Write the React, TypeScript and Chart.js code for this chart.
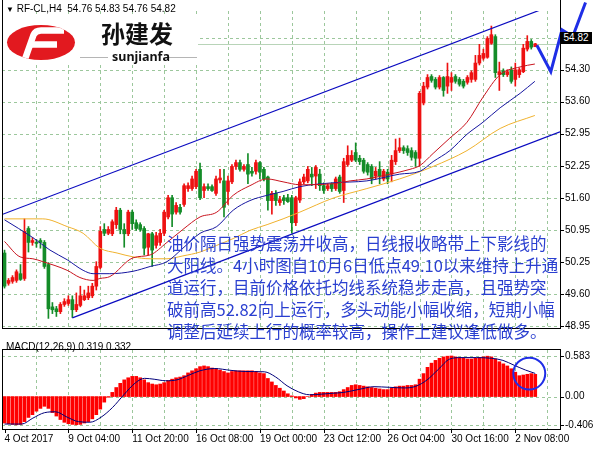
import React, { useEffect, useRef } from 'react';
import { Chart, registerables } from 'chart.js';

Chart.register(...registerables);

// ---------------- data ----------------
const openP = [
  50.47, 49.84, 49.88, 49.90, 50.04, 49.94, 50.98, 50.69, 50.69, 50.73,
  50.69, 50.23, 49.35, 49.31, 49.25, 49.40, 49.42, 49.50, 49.29, 49.38,
  49.50, 49.54, 49.58, 49.78, 50.17, 50.96, 50.88, 50.87, 51.06, 51.36,
  50.96, 50.87, 51.32, 51.10, 51.06, 50.98, 50.59, 50.87, 50.63, 50.69,
  50.88, 51.22, 51.62, 51.32, 51.42, 51.48, 51.81, 51.81, 51.85, 52.21,
  51.77, 51.85, 51.85, 51.71, 51.99, 51.97, 51.75, 51.95, 52.27, 52.35,
  52.21, 52.31, 52.17, 52.17, 52.35, 52.21, 52.05, 51.56, 51.71, 51.52,
  51.62, 51.62, 51.62, 51.10, 51.57, 51.95, 51.97, 52.11, 52.07, 52.11,
  51.87, 51.81, 51.91, 51.81, 52.05, 51.77, 52.31, 52.40, 52.56, 52.44,
  52.40, 52.31, 52.27, 52.07, 52.21, 52.01, 52.15, 52.11, 52.37, 52.60,
  52.66, 52.64, 52.60, 52.56, 52.44, 53.59, 53.92, 54.14, 54.08, 53.92,
  54.12, 53.94, 54.02, 54.14, 54.08, 54.04, 54.02, 54.08, 54.08, 54.42,
  54.52, 54.54, 54.83, 54.97, 54.18, 54.26, 54.18, 54.28, 54.08, 54.18,
  54.24, 54.71, 54.87, 54.76,
];
const highP = [
  50.53, 49.94, 50.00, 50.12, 50.23, 51.18, 51.02, 50.79, 50.75, 50.77,
  50.73, 50.27, 49.44, 49.36, 49.44, 49.52, 49.58, 49.58, 49.64, 49.78,
  49.70, 49.78, 49.84, 50.29, 51.02, 51.08, 51.02, 51.16, 51.42, 51.40,
  51.08, 51.36, 51.36, 51.16, 51.10, 51.02, 50.88, 50.90, 50.90, 50.96,
  51.36, 51.67, 51.67, 51.52, 51.48, 51.91, 51.93, 52.07, 52.21, 52.34,
  51.91, 51.91, 51.89, 52.07, 52.21, 52.21, 52.07, 52.31, 52.40, 52.40,
  52.31, 52.54, 52.25, 52.40, 52.37, 52.25, 52.07, 51.75, 51.77, 51.65,
  51.67, 51.69, 51.67, 51.65, 52.01, 52.11, 52.27, 52.25, 52.29, 52.21,
  51.93, 51.91, 51.93, 52.05, 52.09, 52.44, 52.70, 52.60, 52.76, 52.50,
  52.44, 52.35, 52.31, 52.25, 52.37, 52.21, 52.21, 52.50, 52.84, 52.86,
  52.70, 52.70, 52.66, 52.60, 53.83, 54.02, 54.18, 54.18, 54.12, 54.16,
  54.14, 54.42, 54.22, 54.18, 54.12, 54.08, 54.16, 54.26, 54.58, 54.81,
  54.71, 54.97, 55.19, 55.01, 54.44, 54.30, 54.28, 54.34, 54.42, 54.32,
  54.81, 54.99, 54.91, 54.83,
];
const lowP = [
  49.74, 49.80, 49.84, 49.86, 49.90, 49.90, 50.49, 50.63, 50.59, 50.57,
  50.15, 49.11, 49.21, 49.15, 49.21, 49.36, 49.38, 49.13, 49.25, 49.35,
  49.48, 49.50, 49.54, 49.70, 50.14, 50.83, 50.85, 50.83, 50.98, 50.87,
  50.59, 50.83, 50.96, 50.94, 50.92, 50.43, 50.43, 50.19, 50.57, 50.63,
  50.83, 51.18, 51.02, 51.28, 51.28, 51.44, 51.75, 51.77, 51.81, 51.58,
  51.62, 51.77, 51.75, 51.67, 51.93, 51.22, 51.48, 51.91, 52.21, 52.17,
  52.17, 51.91, 52.07, 52.11, 52.01, 51.97, 51.36, 51.28, 51.46, 51.46,
  51.48, 51.52, 50.88, 51.04, 51.52, 51.91, 51.93, 51.87, 51.81, 51.77,
  51.71, 51.77, 51.75, 51.77, 51.71, 51.52, 52.27, 52.37, 52.37, 52.31,
  52.13, 52.09, 51.91, 52.01, 51.91, 51.97, 51.91, 51.95, 52.31, 52.56,
  52.54, 52.50, 52.40, 52.27, 52.27, 53.55, 53.88, 54.02, 53.88, 53.88,
  53.73, 53.79, 53.85, 54.00, 53.94, 53.90, 53.98, 54.02, 54.04, 54.38,
  54.48, 54.52, 54.81, 54.12, 53.85, 54.14, 54.14, 54.00, 53.94, 54.12,
  54.22, 54.67, 54.71, 54.76,
];
const closeP = [
  49.78, 49.90, 49.96, 50.08, 49.92, 50.92, 50.69, 50.73, 50.67, 50.69,
  50.19, 49.31, 49.29, 49.25, 49.40, 49.46, 49.50, 49.29, 49.40, 49.58,
  49.58, 49.64, 49.78, 50.19, 50.92, 50.88, 50.96, 51.12, 51.36, 50.96,
  50.87, 51.32, 51.08, 50.98, 50.96, 50.57, 50.87, 50.53, 50.83, 50.88,
  51.32, 51.62, 51.28, 51.46, 51.32, 51.87, 51.87, 52.01, 52.17, 51.62,
  51.85, 51.81, 51.77, 52.01, 52.03, 51.42, 51.97, 52.27, 52.35, 52.21,
  52.27, 52.11, 52.13, 52.35, 52.15, 52.01, 51.56, 51.71, 51.56, 51.58,
  51.56, 51.54, 51.10, 51.62, 51.95, 52.05, 52.21, 52.05, 52.25, 51.87,
  51.77, 51.87, 51.81, 52.01, 51.75, 52.37, 52.50, 52.50, 52.40, 52.37,
  52.17, 52.15, 52.01, 52.17, 52.07, 52.17, 52.01, 52.40, 52.60, 52.66,
  52.60, 52.56, 52.46, 52.44, 53.79, 53.94, 54.12, 54.06, 53.92, 54.12,
  53.85, 54.14, 54.12, 54.04, 53.98, 53.94, 54.12, 54.22, 54.42, 54.58,
  54.62, 54.93, 55.01, 54.22, 54.24, 54.18, 54.24, 54.04, 54.28, 54.28,
  54.73, 54.87, 54.75, 54.82,
];

// moving averages (bar position, price)
const redMaBars = [0, 3.9, 7.1, 9.6, 15.7, 18.9, 22.2, 23.9, 26.4, 32.2, 36.5, 40.7, 44.7, 49, 53.2, 57.3, 61.5, 65.8, 69.8, 74, 82.3, 86.6, 90.8, 96.6, 101.6, 104.1, 107.4, 111.6, 115.9, 119.9, 124.2, 129.2, 132.9];
const redMaVals = [50.71, 50.39, 50.35, 50.29, 50.11, 49.96, 49.90, 49.94, 49.98, 50.37, 50.43, 50.69, 50.96, 51.22, 51.32, 51.67, 51.87, 52.01, 51.95, 51.89, 51.91, 51.97, 52.01, 52.11, 52.21, 52.29, 52.54, 52.86, 53.19, 53.71, 54.18, 54.34, 54.40];
const blueMaBars = [0, 7.1, 11.4, 15.7, 19.7, 22.2, 26.4, 32.2, 36.5, 40.7, 44.7, 49, 53.2, 57.3, 61.5, 65.8, 69.8, 74, 82.3, 90.8, 99, 104.1, 107.4, 111.6, 115.9, 119.9, 124.2, 129.2, 132.9];
const blueMaVals = [51.16, 50.79, 50.53, 50.33, 50.11, 50.04, 50.04, 50.09, 50.19, 50.29, 50.57, 50.88, 51.02, 51.36, 51.56, 51.67, 51.75, 51.85, 51.93, 51.97, 52.11, 52.17, 52.37, 52.60, 52.94, 53.19, 53.49, 53.79, 54.04];
const orangeMaBars = [0, 9.6, 15.7, 19.7, 23.9, 28.2, 32.2, 36.5, 40.7, 44.7, 49, 53.2, 57.3, 61.5, 65.8, 69.8, 74, 82.3, 90.8, 99, 107.4, 115.9, 124.2, 132.9];
const orangeMaVals = [51.18, 51.18, 51.02, 50.88, 50.57, 50.47, 50.39, 50.35, 50.35, 50.41, 50.49, 50.63, 50.77, 50.94, 51.06, 51.18, 51.32, 51.61, 51.81, 52.01, 52.27, 52.60, 53.06, 53.33];

// trend channel + hand-drawn arrow
const upperChannelBars = [-0.63, 139.2];
const upperChannelPrices = [51.27, 55.68];
const lowerChannelBars = [17, 139.2];
const lowerChannelPrices = [49.12, 52.99];
const arrowBars = [133.4, 136.9, 139.7, 142.4, 145.6];
const arrowPrices = [54.79, 54.24, 55.11, 54.97, 55.68];
const bidPrice = 54.82;

// axes
const priceTickValues = [48.95, 49.6167, 50.2833, 50.95, 51.6167, 52.2833, 52.95, 53.6167, 54.2833, 54.95];
const priceTickLabels = ['48.95', '49.60', '50.25', '50.95', '51.60', '52.25', '52.95', '53.60', '54.30', '54.95'];
const timeLabelBars = [0, 16, 32, 48, 64, 80, 96, 112, 128];
const timeLabels = ['4 Oct 2017', '9 Oct 04:00', '11 Oct 20:00', '16 Oct 08:00', '19 Oct 00:00', '23 Oct 12:00', '26 Oct 04:00', '30 Oct 16:00', '2 Nov 08:00'];
const gridBars = [8, 16, 24, 32, 40, 48, 56, 64, 72, 80, 88, 96, 104, 112, 120, 128, 136];

// MACD
const macdHist = [
  -0.38, -0.39, -0.40, -0.406, -0.40, -0.36, -0.30, -0.26, -0.21, -0.17,
  -0.14, -0.17, -0.23, -0.28, -0.33, -0.37, -0.39, -0.40, -0.405, -0.40,
  -0.38, -0.36, -0.32, -0.26, -0.18, -0.08, -0.01, 0.06, 0.13, 0.19,
  0.24, 0.27, 0.29, 0.29, 0.27, 0.24, 0.20, 0.18, 0.17, 0.18,
  0.20, 0.23, 0.25, 0.27, 0.28, 0.30, 0.34, 0.37, 0.40, 0.43,
  0.44, 0.43, 0.41, 0.40, 0.38, 0.36, 0.34, 0.36, 0.37, 0.37,
  0.37, 0.37, 0.37, 0.36, 0.34, 0.33, 0.26, 0.21, 0.16, 0.12,
  0.08, 0.04, 0.01, -0.02, -0.04, -0.03, 0.00, 0.03, 0.05, 0.06,
  0.06, 0.06, 0.06, 0.06, 0.07, 0.10, 0.13, 0.16, 0.17, 0.16,
  0.15, 0.14, 0.13, 0.12, 0.11, 0.10, 0.10, 0.12, 0.14, 0.15,
  0.15, 0.16, 0.16, 0.17, 0.25, 0.33, 0.42, 0.48, 0.52, 0.55,
  0.57, 0.58, 0.583, 0.57, 0.56, 0.55, 0.54, 0.54, 0.55, 0.56,
  0.57, 0.58, 0.57, 0.54, 0.50, 0.47, 0.44, 0.40, 0.35, 0.30,
  0.31, 0.32, 0.33, 0.319,
];
const signalBars = [0, 4.3, 7.1, 10, 12.8, 15.7, 18.5, 21.4, 24.2, 27.1, 29.9, 32.8, 35.1, 37.5, 40.4, 43.2, 46.1, 48.9, 52.7, 56.5, 60.3, 65.1, 67.9, 70.8, 73.6, 76.4, 79.3, 82.1, 85, 88.8, 92.6, 96.4, 100.2, 103, 105.9, 108.7, 111.6, 114.4, 118.2, 122, 124.9, 127.7, 130.6, 133];
const signalVals = [-0.395, -0.395, -0.31, -0.232, -0.219, -0.296, -0.36, -0.369, -0.296, -0.155, 0.026, 0.197, 0.262, 0.249, 0.227, 0.24, 0.305, 0.369, 0.403, 0.378, 0.36, 0.356, 0.283, 0.155, 0.069, 0.026, 0.034, 0.047, 0.06, 0.103, 0.142, 0.133, 0.124, 0.146, 0.24, 0.39, 0.54, 0.56, 0.56, 0.55, 0.52, 0.45, 0.38, 0.332];
const macdTickValues = [-0.406, 0, 0.583];
const macdTickLabels = ['-0.406', '0.00', '0.583'];
const circleBar = 131.5;
const circleValue = 0.33;
const circleRadiusBars = 4;

const textLines = [
  '油价隔日强势震荡并收高，日线报收略带上下影线的',
  '大阳线。4小时图自10月6日低点49.10以来维持上升通',
  '道运行，目前价格依托均线系统稳步走高，且强势突',
  '破前高52.82向上运行，多头动能小幅收缩，短期小幅',
  '调整后延续上行的概率较高，操作上建议逢低做多。',
];

// ---------------- styles ----------------
const X_MIN = -0.63;
const X_MAX = 139.2;
const UP = '#ee1111';
const DOWN = '#148c28';
const GRID = '#9cc79c';
const AXIS_FONT = { family: '"Liberation Sans", Arial, sans-serif', size: 10 };

const idx = openP.map((_, i) => i);
const candleColors = idx.map((i) => (closeP[i] >= openP[i] ? UP : DOWN));
const pts = (xs: number[], ys: number[]) => xs.map((x, i) => ({ x, y: ys[i] }));

function hline(ctx: CanvasRenderingContext2D, x1: number, x2: number, y: number) {
  ctx.beginPath();
  ctx.moveTo(x1, y);
  ctx.lineTo(x2, y);
  ctx.stroke();
}
function vline(ctx: CanvasRenderingContext2D, x: number, y1: number, y2: number) {
  ctx.beginPath();
  ctx.moveTo(x, y1);
  ctx.lineTo(x, y2);
  ctx.stroke();
}

const mainDeco = {
  id: 'mainDeco',
  beforeDatasetsDraw(chart: any) {
    const { ctx, chartArea: a, scales } = chart;
    const xs = scales.x;
    const ys = scales.y;
    ctx.save();
    ctx.strokeStyle = GRID;
    ctx.lineWidth = 1;
    ctx.setLineDash([3, 3]);
    for (const b of gridBars) {
      const px = Math.round(xs.getPixelForValue(b)) + 0.5;
      vline(ctx, px, a.top, a.bottom);
    }
    for (const v of priceTickValues) {
      const py = Math.round(ys.getPixelForValue(v)) + 0.5;
      hline(ctx, a.left, a.right, py);
    }
    ctx.setLineDash([]);
    ctx.strokeStyle = '#b8d4b8';
    hline(ctx, a.left, a.right, Math.round(ys.getPixelForValue(bidPrice)) + 0.5);
    ctx.restore();
  },
  afterDraw(chart: any) {
    const { ctx, chartArea: a, scales } = chart;
    const xs = scales.x;
    const ys = scales.y;
    ctx.save();
    // logo block
    ctx.fillStyle = '#ffffff';
    ctx.fillRect(a.left + 1, 16, 195, 47);
    ctx.fillStyle = '#e2191f';
    ctx.beginPath();
    ctx.ellipse(41, 42.5, 34, 17.5, 0, 0, Math.PI * 2);
    ctx.fill();
    ctx.save();
    ctx.beginPath();
    ctx.ellipse(41, 42.5, 34, 17.5, 0, 0, Math.PI * 2);
    ctx.clip();
    ctx.strokeStyle = '#ffffff';
    ctx.lineWidth = 6.5;
    ctx.lineCap = 'butt';
    ctx.lineJoin = 'round';
    ctx.beginPath();
    ctx.moveTo(24, 62);
    ctx.lineTo(33.5, 35);
    ctx.quadraticCurveTo(35.5, 30.5, 41, 30.5);
    ctx.lineTo(64, 30.5);
    ctx.stroke();
    ctx.beginPath();
    ctx.moveTo(30, 44.5);
    ctx.lineTo(57, 44.5);
    ctx.stroke();
    ctx.restore();
    ctx.strokeStyle = '#b5b5b5';
    ctx.lineWidth = 1;
    hline(ctx, 80, 108, 57.5);
    hline(ctx, 168, 197, 57.5);

    // frame
    ctx.strokeStyle = '#000';
    ctx.lineWidth = 1;
    vline(ctx, a.left + 0.5, 0, a.bottom + 1);
    vline(ctx, a.right + 0.5, 0, a.bottom + 1);
    hline(ctx, a.left, a.right + 1, a.bottom + 0.5);
    for (const v of priceTickValues) {
      const py = Math.round(ys.getPixelForValue(v)) + 0.5;
      hline(ctx, a.right, a.right + 4, py);
    }

    // hand-drawn arrow
    ctx.strokeStyle = '#1f2ee6';
    ctx.lineWidth = 3;
    ctx.lineJoin = 'miter';
    ctx.beginPath();
    arrowBars.forEach((b, i) => {
      const px = xs.getPixelForValue(b);
      const py = ys.getPixelForValue(arrowPrices[i]);
      if (i === 0) ctx.moveTo(px, py);
      else ctx.lineTo(px, py);
    });
    ctx.stroke();
    ctx.restore();
  },
};

const macdDeco = {
  id: 'macdDeco',
  beforeDatasetsDraw(chart: any) {
    const { ctx, chartArea: a, scales } = chart;
    const xs = scales.x;
    const ys = scales.y;
    ctx.save();
    ctx.strokeStyle = GRID;
    ctx.lineWidth = 1;
    ctx.setLineDash([3, 3]);
    for (const b of gridBars) {
      const px = Math.round(xs.getPixelForValue(b)) + 0.5;
      vline(ctx, px, a.top, a.bottom);
    }
    for (const v of macdTickValues) {
      const py = Math.round(ys.getPixelForValue(v)) + 0.5;
      hline(ctx, a.left, a.right, py);
    }
    ctx.restore();
  },
  afterDraw(chart: any) {
    const { ctx, chartArea: a, scales } = chart;
    const xs = scales.x;
    const ys = scales.y;
    ctx.save();
    ctx.strokeStyle = '#000';
    ctx.lineWidth = 1;
    ctx.strokeRect(a.left + 0.5, a.top - 0.5, a.right - a.left, a.bottom - a.top + 1);
    for (const v of macdTickValues) {
      const py = Math.round(ys.getPixelForValue(v)) + 0.5;
      hline(ctx, a.right, a.right + 4, py);
    }
    for (const b of timeLabelBars) {
      const px = Math.round(xs.getPixelForValue(b)) + 0.5;
      vline(ctx, px, a.bottom, a.bottom + 4);
    }
    // highlight circle
    const cx = xs.getPixelForValue(circleBar);
    const cy = ys.getPixelForValue(circleValue);
    const r = xs.getPixelForValue(circleBar + circleRadiusBars) - cx;
    ctx.strokeStyle = '#1f2ee6';
    ctx.lineWidth = 2;
    ctx.beginPath();
    ctx.arc(cx, cy, r, 0, Math.PI * 2);
    ctx.stroke();
    ctx.restore();
  },
};

export default function App() {
  const mainRef = useRef<HTMLCanvasElement>(null);
  const macdRef = useRef<HTMLCanvasElement>(null);

  useEffect(() => {
    const mainChart = new Chart(mainRef.current as HTMLCanvasElement, {
      type: 'bar',
      data: {
        datasets: [
          {
            type: 'line',
            data: pts(upperChannelBars, upperChannelPrices),
            borderColor: '#0a0ac0',
            borderWidth: 1.2,
            pointRadius: 0,
            order: 0,
          } as any,
          {
            type: 'line',
            data: pts(lowerChannelBars, lowerChannelPrices),
            borderColor: '#0a0ac0',
            borderWidth: 1.2,
            pointRadius: 0,
            order: 0,
          } as any,
          {
            type: 'line',
            data: pts(redMaBars, redMaVals),
            borderColor: '#c8141e',
            borderWidth: 1,
            pointRadius: 0,
            cubicInterpolationMode: 'monotone',
            order: 1,
          } as any,
          {
            type: 'line',
            data: pts(blueMaBars, blueMaVals),
            borderColor: '#1616a0',
            borderWidth: 1,
            pointRadius: 0,
            cubicInterpolationMode: 'monotone',
            order: 1,
          } as any,
          {
            type: 'line',
            data: pts(orangeMaBars, orangeMaVals),
            borderColor: '#f0b22e',
            borderWidth: 1,
            pointRadius: 0,
            cubicInterpolationMode: 'monotone',
            order: 1,
          } as any,
          {
            type: 'bar',
            data: idx.map((i) => ({ x: i, y: [lowP[i], highP[i]] })),
            backgroundColor: candleColors,
            barThickness: 1,
            grouped: false,
            order: 3,
          } as any,
          {
            type: 'bar',
            data: idx.map((i) => ({ x: i, y: [openP[i], closeP[i]] })),
            backgroundColor: candleColors,
            barThickness: 3,
            minBarLength: 1,
            grouped: false,
            order: 2,
          } as any,
        ],
      },
      options: {
        animation: false,
        responsive: false,
        maintainAspectRatio: false,
        layout: { padding: { left: 2, top: 3, right: 0, bottom: 2 } },
        plugins: { legend: { display: false }, tooltip: { enabled: false } },
        scales: {
          x: { type: 'linear', min: X_MIN, max: X_MAX, offset: false, display: false },
          y: {
            type: 'linear',
            position: 'right',
            min: 48.9105,
            max: 55.5026,
            grid: { display: false, drawTicks: false },
            border: { display: false },
            afterFit: (s: any) => {
              s.width = 40;
            },
            afterBuildTicks: (s: any) => {
              s.ticks = priceTickValues.map((v) => ({ value: v }));
            },
            ticks: {
              autoSkip: false,
              padding: 5,
              color: '#000',
              font: AXIS_FONT,
              callback: (_v: any, i: number) => priceTickLabels[i],
            },
          },
        },
      } as any,
      plugins: [mainDeco],
    });

    const macdChart = new Chart(macdRef.current as HTMLCanvasElement, {
      type: 'bar',
      data: {
        datasets: [
          {
            type: 'line',
            data: pts(signalBars, signalVals),
            borderColor: '#00007a',
            borderWidth: 1,
            pointRadius: 0,
            cubicInterpolationMode: 'monotone',
            order: 0,
          } as any,
          {
            type: 'bar',
            data: idx.map((i) => ({ x: i, y: macdHist[i] })),
            backgroundColor: '#ff0000',
            barThickness: 3,
            grouped: false,
            order: 1,
          } as any,
        ],
      },
      options: {
        animation: false,
        responsive: false,
        maintainAspectRatio: false,
        layout: { padding: { left: 2, top: 1, right: 0, bottom: 0 } },
        plugins: { legend: { display: false }, tooltip: { enabled: false } },
        scales: {
          x: {
            type: 'linear',
            min: X_MIN,
            max: X_MAX,
            offset: false,
            grid: { display: false, drawTicks: false },
            border: { display: false },
            afterFit: (s: any) => {
              s.height = 21;
            },
            afterBuildTicks: (s: any) => {
              s.ticks = timeLabelBars.map((v) => ({ value: v }));
            },
            ticks: {
              autoSkip: false,
              maxRotation: 0,
              minRotation: 0,
              align: 'start',
              padding: 4,
              color: '#000',
              font: AXIS_FONT,
              callback: (_v: any, i: number) => timeLabels[i],
            },
          },
          y: {
            type: 'linear',
            position: 'right',
            min: -0.466,
            max: 0.669,
            grid: { display: false, drawTicks: false },
            border: { display: false },
            afterFit: (s: any) => {
              s.width = 40;
            },
            afterBuildTicks: (s: any) => {
              s.ticks = macdTickValues.map((v) => ({ value: v }));
            },
            ticks: {
              autoSkip: false,
              padding: 5,
              color: '#000',
              font: AXIS_FONT,
              callback: (_v: any, i: number) => macdTickLabels[i],
            },
          },
        },
      } as any,
      plugins: [macdDeco],
    });

    return () => {
      mainChart.destroy();
      macdChart.destroy();
    };
  }, []);

  const uiFont = '"Liberation Sans", Arial, sans-serif';
  return (
    <div style={{ position: 'fixed', left: 0, top: 0, width: 600, height: 450, background: '#fff', overflow: 'hidden' }}>
      <canvas ref={mainRef} width={600} height={339} style={{ position: 'absolute', left: 0, top: 0 }} />
      <canvas ref={macdRef} width={600} height={111} style={{ position: 'absolute', left: 0, top: 339 }} />
      <div style={{ position: 'absolute', left: 6, top: 3, font: `10px ${uiFont}`, whiteSpace: 'pre', color: '#000', lineHeight: '12px' }}>
        <span style={{ fontSize: 8 }}>▼</span> RF-CL,H4  54.76 54.83 54.76 54.82
      </div>
      <div style={{ position: 'absolute', left: 101, top: 19, font: 'bold 24px "Noto Sans CJK SC", sans-serif', lineHeight: '28px', color: '#111', letterSpacing: 0 }}>
        孙建发
      </div>
      <div style={{ position: 'absolute', left: 112, top: 49, font: 'bold 12.5px "Noto Sans", sans-serif', lineHeight: '16px', color: '#111' }}>
        sunjianfa
      </div>
      <div style={{ position: 'absolute', left: 560, top: 32, width: 32, height: 12, background: '#000', color: '#fff', font: `10px ${uiFont}`, lineHeight: '12px', textAlign: 'center' }}>
        54.82
      </div>
      <div style={{ position: 'absolute', left: 6, top: 341, font: `10px ${uiFont}`, whiteSpace: 'pre', color: '#000', lineHeight: '12px' }}>
        MACD(12,26,9) 0.319 0.332
      </div>
      <div style={{ position: 'absolute', left: 167, top: 232, color: '#2a3fd0', font: '16.5px "Noto Sans CJK SC", sans-serif' }}>
        {textLines.map((t, i) => (
          <div key={i} style={{ height: 22, lineHeight: '22px', whiteSpace: 'nowrap' }}>
            {t}
          </div>
        ))}
      </div>
    </div>
  );
}
